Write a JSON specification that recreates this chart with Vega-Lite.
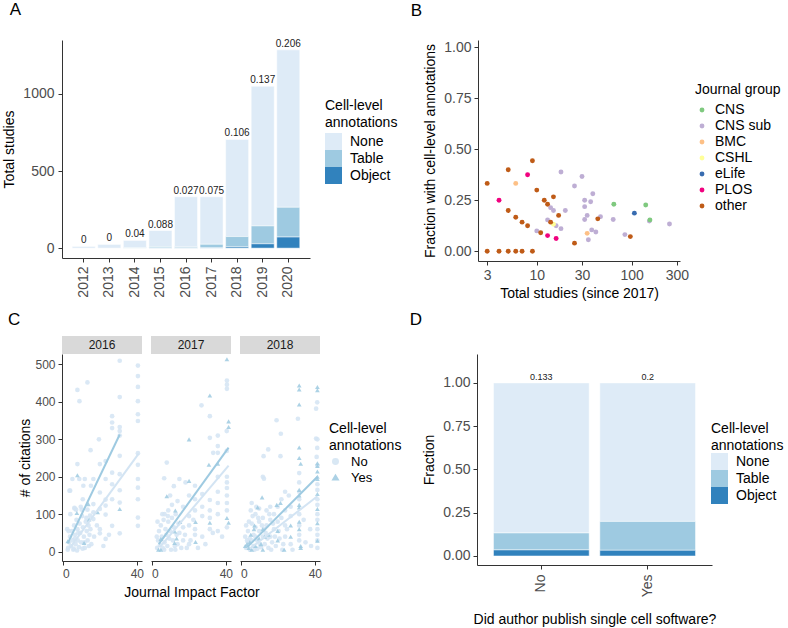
{
"$schema": "https://vega.github.io/schema/vega-lite/v6.json",
"background": "white",
"padding": {"left": 2, "top": 0, "right": 0, "bottom": 0},
"config": {
  "font": "Liberation Sans",
  "view": {"stroke": null},
  "axis": {"domainColor": "#333", "domainWidth": 1, "tickColor": "#333", "tickWidth": 1, "tickSize": 4, "labelColor": "#4d4d4d", "labelFontSize": 14, "labelPadding": 3, "titleFontSize": 14, "titleFontWeight": "normal", "titleColor": "#000", "grid": false, "titlePadding": 6},
  "legend": {"titleFontSize": 14, "titleFontWeight": "normal", "titleColor": "#000", "labelFontSize": 14, "labelColor": "#000", "titleLimit": 300, "labelLimit": 300},
  "header": {"titleFontWeight": "normal", "titleColor": "#000", "titleFontSize": 14},
  "title": {"fontSize": 17, "fontWeight": "normal", "anchor": "start", "frame": "bounds", "color": "#000"},
  "text": {"font": "Liberation Sans"}
},
"datasets": {
  "a": [
    {"yr": "2012", "ann": "None", "n": 11, "k": 3},
    {"yr": "2013", "ann": "None", "n": 24, "k": 3},
    {"yr": "2014", "ann": "None", "n": 48, "k": 3},
    {"yr": "2014", "ann": "Table", "n": 2, "k": 2},
    {"yr": "2015", "ann": "None", "n": 104, "k": 3},
    {"yr": "2015", "ann": "Table", "n": 9, "k": 2},
    {"yr": "2015", "ann": "Object", "n": 1, "k": 1},
    {"yr": "2016", "ann": "None", "n": 324, "k": 3},
    {"yr": "2016", "ann": "Table", "n": 8, "k": 2},
    {"yr": "2016", "ann": "Object", "n": 1, "k": 1},
    {"yr": "2017", "ann": "None", "n": 308, "k": 3},
    {"yr": "2017", "ann": "Table", "n": 24, "k": 2},
    {"yr": "2017", "ann": "Object", "n": 1, "k": 1},
    {"yr": "2018", "ann": "None", "n": 630, "k": 3},
    {"yr": "2018", "ann": "Table", "n": 67, "k": 2},
    {"yr": "2018", "ann": "Object", "n": 8, "k": 1},
    {"yr": "2019", "ann": "None", "n": 906, "k": 3},
    {"yr": "2019", "ann": "Table", "n": 116, "k": 2},
    {"yr": "2019", "ann": "Object", "n": 28, "k": 1},
    {"yr": "2020", "ann": "None", "n": 1021, "k": 3},
    {"yr": "2020", "ann": "Table", "n": 193, "k": 2},
    {"yr": "2020", "ann": "Object", "n": 72, "k": 1}
  ],
  "al": [
    {"yr": "2012", "tot": 11, "lab": "0"},
    {"yr": "2013", "tot": 24, "lab": "0"},
    {"yr": "2014", "tot": 50, "lab": "0.04"},
    {"yr": "2015", "tot": 114, "lab": "0.088"},
    {"yr": "2016", "tot": 333, "lab": "0.027"},
    {"yr": "2017", "tot": 333, "lab": "0.075"},
    {"yr": "2018", "tot": 705, "lab": "0.106"},
    {"yr": "2019", "tot": 1050, "lab": "0.137"},
    {"yr": "2020", "tot": 1286, "lab": "0.206"}
  ],
  "b": [
    {"g": "CNS sub", "n": 18, "f": 0.389}, {"g": "CNS sub", "n": 30, "f": 0.367}, {"g": "CNS sub", "n": 25, "f": 0.32}, {"g": "CNS sub", "n": 32, "f": 0.25},
    {"g": "CNS sub", "n": 37, "f": 0.243}, {"g": "CNS sub", "n": 39, "f": 0.282}, {"g": "CNS sub", "n": 32, "f": 0.219}, {"g": "CNS sub", "n": 20, "f": 0.2},
    {"g": "CNS sub", "n": 14, "f": 0.214}, {"g": "CNS sub", "n": 15, "f": 0.2}, {"g": "CNS sub", "n": 13, "f": 0.154}, {"g": "CNS sub", "n": 16, "f": 0.125},
    {"g": "CNS sub", "n": 18, "f": 0.111}, {"g": "CNS sub", "n": 10, "f": 0.1}, {"g": "CNS sub", "n": 34, "f": 0.176}, {"g": "CNS sub", "n": 32, "f": 0.156},
    {"g": "CNS sub", "n": 47, "f": 0.17}, {"g": "CNS sub", "n": 64, "f": 0.156}, {"g": "CNS sub", "n": 38, "f": 0.105}, {"g": "CNS sub", "n": 42, "f": 0.095},
    {"g": "CNS sub", "n": 35, "f": 0.057}, {"g": "CNS sub", "n": 85, "f": 0.082}, {"g": "CNS sub", "n": 154, "f": 0.148}, {"g": "CNS sub", "n": 251, "f": 0.134},
    {"g": "CNS", "n": 65, "f": 0.231}, {"g": "CNS", "n": 141, "f": 0.227}, {"g": "CNS", "n": 156, "f": 0.154},
    {"g": "BMC", "n": 6, "f": 0.333}, {"g": "BMC", "n": 34, "f": 0.088},
    {"g": "CSHL", "n": 15, "f": 0.133},
    {"g": "eLife", "n": 107, "f": 0.187},
    {"g": "PLOS", "n": 4, "f": 0.25}, {"g": "PLOS", "n": 8, "f": 0.375}, {"g": "PLOS", "n": 13, "f": 0.077}, {"g": "PLOS", "n": 16, "f": 0.0625},
    {"g": "other", "n": 3, "f": 0.333}, {"g": "other", "n": 5, "f": 0.4}, {"g": "other", "n": 9, "f": 0.444}, {"g": "other", "n": 10, "f": 0.3},
    {"g": "other", "n": 12, "f": 0.25}, {"g": "other", "n": 15, "f": 0.267}, {"g": "other", "n": 13, "f": 0.231}, {"g": "other", "n": 17, "f": 0.176},
    {"g": "other", "n": 5, "f": 0.2}, {"g": "other", "n": 6, "f": 0.167}, {"g": "other", "n": 7, "f": 0.143}, {"g": "other", "n": 8, "f": 0.125},
    {"g": "other", "n": 11, "f": 0.0909}, {"g": "other", "n": 14, "f": 0.143}, {"g": "other", "n": 25, "f": 0.04}, {"g": "other", "n": 44, "f": 0.159},
    {"g": "other", "n": 97, "f": 0.072}, {"g": "other", "n": 3, "f": 0}, {"g": "other", "n": 4, "f": 0}, {"g": "other", "n": 5, "f": 0},
    {"g": "other", "n": 6, "f": 0}, {"g": "other", "n": 7, "f": 0}, {"g": "other", "n": 9, "f": 0}
  ],
  "c": [
    {"yr":2016,"k":"s"},{"yr":2017,"k":"s"},{"yr":2018,"k":"s"},
    {"yr":2016,"a":"No","x":30.8,"c":510},{"yr":2016,"a":"No","x":40.6,"c":497},{"yr":2016,"a":"No","x":40.6,"c":469},{"yr":2016,"a":"No","x":40.6,"c":440},{"yr":2016,"a":"No","x":40.6,"c":402},
    {"yr":2016,"a":"No","x":40.6,"c":367},{"yr":2016,"a":"No","x":40.6,"c":349},{"yr":2016,"a":"No","x":30.8,"c":413},{"yr":2016,"a":"No","x":8,"c":432},{"yr":2016,"a":"No","x":9.1,"c":402},
    {"yr":2016,"a":"No","x":13.4,"c":452},{"yr":2016,"a":"No","x":26.7,"c":362},{"yr":2016,"a":"No","x":26.7,"c":345},{"yr":2016,"a":"No","x":26.7,"c":330},{"yr":2016,"a":"No","x":30.8,"c":333},
    {"yr":2016,"a":"No","x":30.8,"c":322},{"yr":2016,"a":"No","x":30.8,"c":310},{"yr":2016,"a":"No","x":15.1,"c":271},{"yr":2016,"a":"No","x":19.6,"c":300},{"yr":2016,"a":"No","x":40.6,"c":263},
    {"yr":2016,"a":"No","x":40.6,"c":232},{"yr":2016,"a":"No","x":40.6,"c":194},{"yr":2016,"a":"No","x":40.6,"c":171},{"yr":2016,"a":"No","x":40.6,"c":140},{"yr":2016,"a":"No","x":40.6,"c":91},
    {"yr":2016,"a":"No","x":40.6,"c":69},{"yr":2016,"a":"No","x":30.8,"c":256},{"yr":2016,"a":"No","x":30.8,"c":207},{"yr":2016,"a":"No","x":30.8,"c":164},{"yr":2016,"a":"No","x":30.8,"c":131},
    {"yr":2016,"a":"No","x":30.8,"c":49},{"yr":2016,"a":"No","x":26.7,"c":211},{"yr":2016,"a":"No","x":26.7,"c":180},{"yr":2016,"a":"No","x":26.7,"c":140},{"yr":2016,"a":"No","x":26.7,"c":69},
    {"yr":2016,"a":"No","x":23.2,"c":242},{"yr":2016,"a":"No","x":23.2,"c":194},{"yr":2016,"a":"No","x":23.2,"c":139},{"yr":2016,"a":"No","x":23.2,"c":123},{"yr":2016,"a":"No","x":23.2,"c":99},
    {"yr":2016,"a":"No","x":23.2,"c":34},{"yr":2016,"a":"No","x":20.1,"c":234},{"yr":2016,"a":"No","x":20.1,"c":158},{"yr":2016,"a":"No","x":20.1,"c":114},{"yr":2016,"a":"No","x":20.1,"c":60},
    {"yr":2016,"a":"No","x":20.1,"c":49},{"yr":2016,"a":"No","x":16.6,"c":194},{"yr":2016,"a":"No","x":16.6,"c":127},{"yr":2016,"a":"No","x":16.6,"c":105},{"yr":2016,"a":"No","x":16.6,"c":87},
    {"yr":2016,"a":"No","x":15.3,"c":176},{"yr":2016,"a":"No","x":3.7,"c":163},{"yr":2016,"a":"No","x":5.3,"c":194},{"yr":2016,"a":"No","x":8,"c":234},{"yr":2016,"a":"No","x":9,"c":194},
    {"yr":2016,"a":"No","x":11.2,"c":176},{"yr":2016,"a":"No","x":12,"c":194},{"yr":2016,"a":"No","x":10.9,"c":140},{"yr":2016,"a":"No","x":7.3,"c":112},{"yr":2016,"a":"No","x":10.3,"c":112},
    {"yr":2016,"a":"No","x":13.4,"c":112},{"yr":2016,"a":"No","x":14.8,"c":96},{"yr":2016,"a":"No","x":3,"c":10},{"yr":2016,"a":"No","x":3.5,"c":25},{"yr":2016,"a":"No","x":4,"c":40},
    {"yr":2016,"a":"No","x":4.5,"c":15},{"yr":2016,"a":"No","x":5,"c":55},{"yr":2016,"a":"No","x":5.5,"c":30},{"yr":2016,"a":"No","x":6,"c":8},{"yr":2016,"a":"No","x":6.2,"c":70},
    {"yr":2016,"a":"No","x":6.8,"c":45},{"yr":2016,"a":"No","x":7,"c":20},{"yr":2016,"a":"No","x":7.5,"c":85},{"yr":2016,"a":"No","x":8,"c":60},{"yr":2016,"a":"No","x":8.2,"c":30},
    {"yr":2016,"a":"No","x":8.8,"c":12},{"yr":2016,"a":"No","x":9.2,"c":75},{"yr":2016,"a":"No","x":9.5,"c":50},{"yr":2016,"a":"No","x":10,"c":25},{"yr":2016,"a":"No","x":10.5,"c":95},
    {"yr":2016,"a":"No","x":11,"c":65},{"yr":2016,"a":"No","x":11.5,"c":40},{"yr":2016,"a":"No","x":12,"c":10},{"yr":2016,"a":"No","x":12.5,"c":80},{"yr":2016,"a":"No","x":13,"c":55},
    {"yr":2016,"a":"No","x":13.5,"c":30},{"yr":2016,"a":"No","x":14,"c":70},{"yr":2016,"a":"No","x":14.5,"c":45},{"yr":2016,"a":"No","x":15,"c":60},{"yr":2016,"a":"No","x":15.5,"c":20},
    {"yr":2016,"a":"No","x":4.2,"c":100},{"yr":2016,"a":"No","x":6.5,"c":115},{"yr":2016,"a":"No","x":9.8,"c":120},{"yr":2016,"a":"No","x":12.8,"c":90},{"yr":2016,"a":"No","x":3.2,"c":55},
    {"yr":2016,"a":"No","x":5.8,"c":5},{"yr":2016,"a":"No","x":7.8,"c":3},{"yr":2016,"a":"No","x":10.8,"c":8},{"yr":2016,"a":"No","x":2.5,"c":60},{"yr":2016,"a":"No","x":2.8,"c":5},
    {"yr":2016,"a":"No","x":6.6,"c":35},{"yr":2016,"a":"No","x":8.5,"c":50},{"yr":2016,"a":"No","x":11.8,"c":25},{"yr":2016,"a":"No","x":14.2,"c":15},{"yr":2016,"a":"No","x":17,"c":40},
    {"yr":2016,"a":"No","x":18.5,"c":70},{"yr":2016,"a":"No","x":22,"c":15},{"yr":2016,"a":"No","x":25,"c":45},{"yr":2016,"a":"No","x":4.1,"c":163},{"yr":2016,"a":"No","x":6.4,"c":117},
    {"yr":2016,"a":"Yes","x":8,"c":204},{"yr":2016,"a":"Yes","x":13.9,"c":127},{"yr":2016,"a":"Yes","x":7.7,"c":103},{"yr":2016,"a":"Yes","x":18.9,"c":105},
    {"yr":2016,"a":"Yes","x":14.3,"c":86},{"yr":2016,"a":"Yes","x":30.8,"c":114},{"yr":2016,"a":"Yes","x":11.6,"c":23},{"yr":2016,"a":"Yes","x":2.8,"c":28},
    {"yr":2017,"a":"No","x":40.6,"c":457},{"yr":2017,"a":"No","x":40.6,"c":446},{"yr":2017,"a":"No","x":40.6,"c":435},{"yr":2017,"a":"No","x":26.9,"c":391},{"yr":2017,"a":"No","x":31.4,"c":362},
    {"yr":2017,"a":"No","x":31.4,"c":304},{"yr":2017,"a":"No","x":35.7,"c":310},{"yr":2017,"a":"No","x":40.5,"c":322},{"yr":2017,"a":"No","x":35.7,"c":282},{"yr":2017,"a":"No","x":33.2,"c":264},
    {"yr":2017,"a":"No","x":35.7,"c":264},{"yr":2017,"a":"No","x":40.5,"c":269},{"yr":2017,"a":"No","x":8.2,"c":238},{"yr":2017,"a":"No","x":6.8,"c":196},{"yr":2017,"a":"No","x":15,"c":194},
    {"yr":2017,"a":"No","x":18.3,"c":185},{"yr":2017,"a":"No","x":23.4,"c":176},{"yr":2017,"a":"No","x":27.3,"c":154},{"yr":2017,"a":"No","x":31.4,"c":138},{"yr":2017,"a":"No","x":31.4,"c":110},
    {"yr":2017,"a":"No","x":31.4,"c":90},{"yr":2017,"a":"No","x":31.4,"c":60},{"yr":2017,"a":"No","x":35.7,"c":200},{"yr":2017,"a":"No","x":35.7,"c":160},{"yr":2017,"a":"No","x":35.7,"c":130},
    {"yr":2017,"a":"No","x":35.7,"c":100},{"yr":2017,"a":"No","x":35.7,"c":55},{"yr":2017,"a":"No","x":40.6,"c":200},{"yr":2017,"a":"No","x":40.6,"c":185},{"yr":2017,"a":"No","x":40.6,"c":170},
    {"yr":2017,"a":"No","x":40.6,"c":150},{"yr":2017,"a":"No","x":40.6,"c":130},{"yr":2017,"a":"No","x":40.6,"c":110},{"yr":2017,"a":"No","x":40.6,"c":65},{"yr":2017,"a":"No","x":27.3,"c":120},
    {"yr":2017,"a":"No","x":27.3,"c":95},{"yr":2017,"a":"No","x":27.3,"c":40},{"yr":2017,"a":"No","x":23.4,"c":140},{"yr":2017,"a":"No","x":23.4,"c":110},{"yr":2017,"a":"No","x":23.4,"c":60},
    {"yr":2017,"a":"No","x":23.4,"c":45},{"yr":2017,"a":"No","x":20.2,"c":150},{"yr":2017,"a":"No","x":20.2,"c":95},{"yr":2017,"a":"No","x":20.2,"c":70},{"yr":2017,"a":"No","x":20.2,"c":20},
    {"yr":2017,"a":"No","x":17,"c":120},{"yr":2017,"a":"No","x":17,"c":65},{"yr":2017,"a":"No","x":17,"c":30},{"yr":2017,"a":"No","x":25,"c":10},{"yr":2017,"a":"No","x":12,"c":175},
    {"yr":2017,"a":"No","x":10,"c":150},{"yr":2017,"a":"No","x":14,"c":135},{"yr":2017,"a":"No","x":11,"c":125},{"yr":2017,"a":"No","x":9,"c":110},{"yr":2017,"a":"No","x":7,"c":100},
    {"yr":2017,"a":"No","x":3,"c":10},{"yr":2017,"a":"No","x":3.5,"c":30},{"yr":2017,"a":"No","x":4,"c":55},{"yr":2017,"a":"No","x":4.5,"c":18},{"yr":2017,"a":"No","x":5,"c":70},
    {"yr":2017,"a":"No","x":5.5,"c":40},{"yr":2017,"a":"No","x":6,"c":10},{"yr":2017,"a":"No","x":6.5,"c":85},{"yr":2017,"a":"No","x":7,"c":25},{"yr":2017,"a":"No","x":7.5,"c":60},
    {"yr":2017,"a":"No","x":8,"c":45},{"yr":2017,"a":"No","x":8.5,"c":15},{"yr":2017,"a":"No","x":9,"c":80},{"yr":2017,"a":"No","x":9.5,"c":35},{"yr":2017,"a":"No","x":10,"c":55},
    {"yr":2017,"a":"No","x":10.5,"c":5},{"yr":2017,"a":"No","x":11,"c":90},{"yr":2017,"a":"No","x":11.5,"c":30},{"yr":2017,"a":"No","x":12,"c":65},{"yr":2017,"a":"No","x":12.5,"c":15},
    {"yr":2017,"a":"No","x":13,"c":100},{"yr":2017,"a":"No","x":13.5,"c":45},{"yr":2017,"a":"No","x":14,"c":20},{"yr":2017,"a":"No","x":14.5,"c":75},{"yr":2017,"a":"No","x":15,"c":50},
    {"yr":2017,"a":"No","x":16,"c":10},{"yr":2017,"a":"No","x":3.2,"c":80},{"yr":2017,"a":"No","x":5.8,"c":100},{"yr":2017,"a":"No","x":2.8,"c":40},{"yr":2017,"a":"No","x":6.8,"c":5},
    {"yr":2017,"a":"No","x":8.8,"c":95},{"yr":2017,"a":"No","x":12.8,"c":5},{"yr":2017,"a":"No","x":18,"c":45},{"yr":2017,"a":"No","x":19,"c":10},{"yr":2017,"a":"No","x":21,"c":30},
    {"yr":2017,"a":"No","x":22.5,"c":85},{"yr":2017,"a":"No","x":29,"c":20},{"yr":2017,"a":"No","x":33,"c":50},{"yr":2017,"a":"No","x":38,"c":40},
    {"yr":2017,"a":"Yes","x":40.6,"c":514},{"yr":2017,"a":"Yes","x":31.4,"c":417},{"yr":2017,"a":"Yes","x":41.5,"c":348},{"yr":2017,"a":"Yes","x":41.5,"c":333},{"yr":2017,"a":"Yes","x":20.2,"c":300},
    {"yr":2017,"a":"Yes","x":30.9,"c":232},{"yr":2017,"a":"Yes","x":35.7,"c":235},{"yr":2017,"a":"Yes","x":20.2,"c":189},{"yr":2017,"a":"Yes","x":8.2,"c":148},{"yr":2017,"a":"Yes","x":12.8,"c":110},
    {"yr":2017,"a":"Yes","x":15.3,"c":79},{"yr":2017,"a":"Yes","x":23.7,"c":79},{"yr":2017,"a":"Yes","x":31.4,"c":77},{"yr":2017,"a":"Yes","x":40.6,"c":90},{"yr":2017,"a":"Yes","x":41.5,"c":77},
    {"yr":2017,"a":"Yes","x":12.5,"c":54},{"yr":2017,"a":"Yes","x":13.5,"c":35},{"yr":2017,"a":"Yes","x":23.7,"c":26},{"yr":2017,"a":"Yes","x":5,"c":5},{"yr":2017,"a":"Yes","x":3.7,"c":5},
    {"yr":2017,"a":"Yes","x":5,"c":34},{"yr":2017,"a":"Yes","x":12.4,"c":23},
    {"yr":2018,"a":"No","x":19.4,"c":351},{"yr":2018,"a":"No","x":30.9,"c":355},{"yr":2018,"a":"No","x":41.3,"c":399},{"yr":2018,"a":"No","x":40.7,"c":382},{"yr":2018,"a":"No","x":21.7,"c":315},
    {"yr":2018,"a":"No","x":40.7,"c":302},{"yr":2018,"a":"No","x":41.3,"c":277},{"yr":2018,"a":"No","x":14.9,"c":273},{"yr":2018,"a":"No","x":12.4,"c":255},{"yr":2018,"a":"No","x":21.5,"c":255},
    {"yr":2018,"a":"No","x":41,"c":253},{"yr":2018,"a":"No","x":41.4,"c":180},{"yr":2018,"a":"No","x":41.4,"c":165},{"yr":2018,"a":"No","x":41.4,"c":140},{"yr":2018,"a":"No","x":41.4,"c":125},
    {"yr":2018,"a":"No","x":41.4,"c":100},{"yr":2018,"a":"No","x":41.4,"c":85},{"yr":2018,"a":"No","x":41.4,"c":60},{"yr":2018,"a":"No","x":41.4,"c":45},{"yr":2018,"a":"No","x":41.4,"c":10},
    {"yr":2018,"a":"No","x":31.6,"c":210},{"yr":2018,"a":"No","x":31.6,"c":185},{"yr":2018,"a":"No","x":31.6,"c":140},{"yr":2018,"a":"No","x":31.6,"c":100},{"yr":2018,"a":"No","x":31.6,"c":45},
    {"yr":2018,"a":"No","x":31.6,"c":30},{"yr":2018,"a":"No","x":27,"c":120},{"yr":2018,"a":"No","x":27,"c":95},{"yr":2018,"a":"No","x":27,"c":20},{"yr":2018,"a":"No","x":24,"c":160},
    {"yr":2018,"a":"No","x":24,"c":110},{"yr":2018,"a":"No","x":24,"c":70},{"yr":2018,"a":"No","x":24,"c":40},{"yr":2018,"a":"No","x":22,"c":140},{"yr":2018,"a":"No","x":22,"c":90},
    {"yr":2018,"a":"No","x":20,"c":120},{"yr":2018,"a":"No","x":20,"c":80},{"yr":2018,"a":"No","x":18,"c":100},{"yr":2018,"a":"No","x":18,"c":60},{"yr":2018,"a":"No","x":16,"c":120},
    {"yr":2018,"a":"No","x":16,"c":85},{"yr":2018,"a":"No","x":16,"c":40},{"yr":2018,"a":"No","x":14,"c":110},{"yr":2018,"a":"No","x":14,"c":70},{"yr":2018,"a":"No","x":12,"c":200},
    {"yr":2018,"a":"No","x":12.6,"c":195},{"yr":2018,"a":"No","x":12,"c":90},{"yr":2018,"a":"No","x":12,"c":40},{"yr":2018,"a":"No","x":10,"c":115},{"yr":2018,"a":"No","x":10,"c":80},
    {"yr":2018,"a":"No","x":10,"c":55},{"yr":2018,"a":"No","x":8,"c":100},{"yr":2018,"a":"No","x":8,"c":65},{"yr":2018,"a":"No","x":8,"c":40},{"yr":2018,"a":"No","x":6,"c":130},
    {"yr":2018,"a":"No","x":6,"c":75},{"yr":2018,"a":"No","x":6,"c":30},{"yr":2018,"a":"No","x":4,"c":55},{"yr":2018,"a":"No","x":4,"c":25},{"yr":2018,"a":"No","x":3,"c":10},
    {"yr":2018,"a":"No","x":5,"c":5},{"yr":2018,"a":"No","x":7,"c":15},{"yr":2018,"a":"No","x":9,"c":8},{"yr":2018,"a":"No","x":11,"c":12},{"yr":2018,"a":"No","x":13,"c":20},
    {"yr":2018,"a":"No","x":15,"c":10},{"yr":2018,"a":"No","x":17,"c":25},{"yr":2018,"a":"No","x":19,"c":15},{"yr":2018,"a":"No","x":21,"c":35},{"yr":2018,"a":"No","x":23,"c":20},
    {"yr":2018,"a":"No","x":25,"c":60},{"yr":2018,"a":"No","x":26,"c":150},{"yr":2018,"a":"No","x":9,"c":30},{"yr":2018,"a":"No","x":7,"c":45},{"yr":2018,"a":"No","x":5,"c":35},
    {"yr":2018,"a":"No","x":3.5,"c":30},{"yr":2018,"a":"No","x":28,"c":5},{"yr":2018,"a":"No","x":35,"c":25},{"yr":2018,"a":"No","x":37.5,"c":60},{"yr":2018,"a":"No","x":38,"c":15},
    {"yr":2018,"a":"No","x":34,"c":85},{"yr":2018,"a":"No","x":2.5,"c":40},{"yr":2018,"a":"No","x":4.5,"c":80},{"yr":2018,"a":"No","x":6.5,"c":95},{"yr":2018,"a":"No","x":8.5,"c":120},
    {"yr":2018,"a":"No","x":10.5,"c":20},{"yr":2018,"a":"No","x":12.5,"c":60},{"yr":2018,"a":"No","x":14.5,"c":35},{"yr":2018,"a":"No","x":16.5,"c":5},{"yr":2018,"a":"No","x":18.5,"c":40},
    {"yr":2018,"a":"No","x":20.5,"c":55},{"yr":2018,"a":"No","x":22.5,"c":5},{"yr":2018,"a":"No","x":3,"c":70},{"yr":2018,"a":"No","x":5.5,"c":110},{"yr":2018,"a":"No","x":7.5,"c":5},
    {"yr":2018,"a":"No","x":9.5,"c":90},{"yr":2018,"a":"No","x":11.5,"c":70},{"yr":2018,"a":"No","x":13.5,"c":50},{"yr":2018,"a":"No","x":15.5,"c":100},{"yr":2018,"a":"No","x":17.5,"c":75},
    {"yr":2018,"a":"No","x":41.4,"c":30},{"yr":2018,"a":"No","x":41.4,"c":230},{"yr":2018,"a":"No","x":41.4,"c":300},{"yr":2018,"a":"No","x":31.6,"c":70},{"yr":2018,"a":"No","x":31.6,"c":160},
    {"yr":2018,"a":"Yes","x":31.6,"c":444},{"yr":2018,"a":"Yes","x":31.6,"c":433},{"yr":2018,"a":"Yes","x":41.4,"c":440},{"yr":2018,"a":"Yes","x":41.4,"c":431},{"yr":2018,"a":"Yes","x":31.6,"c":393},
    {"yr":2018,"a":"Yes","x":31.6,"c":278},{"yr":2018,"a":"Yes","x":31.6,"c":250},{"yr":2018,"a":"Yes","x":32.4,"c":235},{"yr":2018,"a":"Yes","x":41.4,"c":236},{"yr":2018,"a":"Yes","x":41.4,"c":229},
    {"yr":2018,"a":"Yes","x":41.4,"c":214},{"yr":2018,"a":"Yes","x":41.4,"c":200},{"yr":2018,"a":"Yes","x":41.4,"c":194},{"yr":2018,"a":"Yes","x":41.4,"c":154},{"yr":2018,"a":"Yes","x":41.4,"c":114},
    {"yr":2018,"a":"Yes","x":41.4,"c":76},{"yr":2018,"a":"Yes","x":41.4,"c":29},{"yr":2018,"a":"Yes","x":31.6,"c":165},{"yr":2018,"a":"Yes","x":31.6,"c":150},{"yr":2018,"a":"Yes","x":31.6,"c":125},
    {"yr":2018,"a":"Yes","x":31.6,"c":118},{"yr":2018,"a":"Yes","x":31.6,"c":80},{"yr":2018,"a":"Yes","x":31.6,"c":60},{"yr":2018,"a":"Yes","x":32.4,"c":15},{"yr":2018,"a":"Yes","x":32.4,"c":10},
    {"yr":2018,"a":"Yes","x":27,"c":70},{"yr":2018,"a":"Yes","x":27,"c":40},{"yr":2018,"a":"Yes","x":23.5,"c":5},{"yr":2018,"a":"Yes","x":21.5,"c":130},{"yr":2018,"a":"Yes","x":19.5,"c":125},
    {"yr":2018,"a":"Yes","x":20,"c":55},{"yr":2018,"a":"Yes","x":20,"c":30},{"yr":2018,"a":"Yes","x":15,"c":45},{"yr":2018,"a":"Yes","x":11.6,"c":145},{"yr":2018,"a":"Yes","x":12,"c":60},
    {"yr":2018,"a":"Yes","x":10,"c":35},{"yr":2018,"a":"Yes","x":9.2,"c":118},{"yr":2018,"a":"Yes","x":7.5,"c":70},{"yr":2018,"a":"Yes","x":7.2,"c":60},{"yr":2018,"a":"Yes","x":5.5,"c":45},
    {"yr":2018,"a":"Yes","x":5,"c":25},{"yr":2018,"a":"Yes","x":3.5,"c":20},{"yr":2018,"a":"Yes","x":4.5,"c":10},{"yr":2018,"a":"Yes","x":6,"c":5},{"yr":2018,"a":"Yes","x":8,"c":15},
    {"yr":2018,"a":"Yes","x":12,"c":5},{"yr":2018,"a":"Yes","x":13,"c":40},{"yr":2018,"a":"Yes","x":2.5,"c":15},{"yr":2018,"a":"Yes","x":11,"c":20},
    {"yr":2016,"k":"l","a":"No","x":4,"c":10},{"yr":2016,"k":"l","a":"No","x":41,"c":262},{"yr":2016,"k":"l","a":"Yes","x":2.8,"c":22},{"yr":2016,"k":"l","a":"Yes","x":30.8,"c":313},
    {"yr":2017,"k":"l","a":"No","x":4.5,"c":12},{"yr":2017,"k":"l","a":"No","x":41.5,"c":230},{"yr":2017,"k":"l","a":"Yes","x":3.9,"c":20},{"yr":2017,"k":"l","a":"Yes","x":41.5,"c":278},
    {"yr":2018,"k":"l","a":"No","x":5,"c":8},{"yr":2018,"k":"l","a":"No","x":41.4,"c":148},{"yr":2018,"k":"l","a":"Yes","x":3.6,"c":12},{"yr":2018,"k":"l","a":"Yes","x":41.4,"c":200}
  ],
  "d": [
    {"sw": "No", "ann": "None", "fr": 0.867, "k": 3},
    {"sw": "No", "ann": "Table", "fr": 0.098, "k": 2},
    {"sw": "No", "ann": "Object", "fr": 0.035, "k": 1},
    {"sw": "Yes", "ann": "None", "fr": 0.8, "k": 3},
    {"sw": "Yes", "ann": "Table", "fr": 0.167, "k": 2},
    {"sw": "Yes", "ann": "Object", "fr": 0.033, "k": 1}
  ],
  "dl": [
    {"sw": "No", "tot": 1, "lab": "0.133"},
    {"sw": "Yes", "tot": 1, "lab": "0.2"}
  ]
},
"spacing": 11,
"resolve": {"scale": {"color": "independent", "shape": "independent"}, "legend": {"color": "independent", "shape": "independent"}},
"vconcat": [
  {
    "columns": 2, "align": "none",
    "spacing": 12,
    "resolve": {"scale": {"color": "independent"}, "legend": {"color": "independent"}},
    "concat": [
      {
        "width": 248, "height": 218,
        "title": {"text": "A", "offset": 20, "dx": 7},
        "layer": [
          {
            "data": {"name": "a"},
            "mark": {"type": "bar", "stroke": "white", "strokeWidth": 0.5},
            "encoding": {
              "x": {"field": "yr", "type": "nominal", "scale": {"paddingInner": 0.1, "paddingOuter": 0.4}, "axis": {"title": null, "labelAngle": -90, "labelPadding": 4}},
              "y": {"field": "n", "type": "quantitative", "stack": "zero", "scale": {"domain": [-64, 1350], "nice": false, "zero": false}, "axis": {"title": "Total studies", "values": [0, 500, 1000], "format": "d", "labelPadding": 4}},
              "color": {"field": "ann", "type": "nominal", "scale": {"domain": ["None", "Table", "Object"], "range": ["#deebf7", "#9ecae1", "#3182bd"]},
                "legend": {"title": ["Cell-level", "annotations"], "orient": "none", "legendX": 263, "legendY": 59, "symbolType": "square", "symbolSize": 289, "symbolStrokeWidth": 0, "rowPadding": 0, "labelOffset": 8, "titleLineHeight": 17, "titlePadding": 3}},
              "order": {"field": "k", "type": "quantitative"}
            }
          },
          {
            "data": {"name": "al"},
            "mark": {"type": "text", "fontSize": 10, "baseline": "bottom", "dy": -1, "color": "#222"},
            "encoding": {
              "x": {"field": "yr", "type": "nominal"},
              "y": {"field": "tot", "type": "quantitative"},
              "text": {"field": "lab"}
            }
          }
        ]
      },
      {
        "width": 202, "height": 221,
        "title": {"text": "B", "offset": 20, "dx": -13},
        "data": {"name": "b"},
        "mark": {"type": "circle", "size": 24, "opacity": 1},
        "encoding": {
          "x": {"field": "n", "type": "quantitative", "scale": {"type": "log", "domain": [2.4, 324], "nice": false}, "axis": {"title": "Total studies (since 2017)", "values": [3, 10, 30, 100, 300], "format": "d", "titlePadding": 4}},
          "y": {"field": "f", "type": "quantitative", "scale": {"domain": [-0.0475, 1.0358], "nice": false, "zero": false}, "axis": {"title": "Fraction with cell-level annotations", "values": [0, 0.25, 0.5, 0.75, 1], "format": ".2f"}},
          "color": {"field": "g", "type": "nominal", "scale": {"domain": ["CNS", "CNS sub", "BMC", "CSHL", "eLife", "PLOS", "other"], "range": ["#7fc97f", "#beaed4", "#fdc086", "#ffff99", "#386cb0", "#f0027f", "#bf5b17"]},
            "legend": {"title": "Journal group", "orient": "none", "legendX": 217, "legendY": 43, "symbolType": "circle", "symbolSize": 24, "rowPadding": 2, "symbolOffset": 0, "labelOffset": 6, "titlePadding": 6}}
        }
      }
    ]
  },
  {
    "columns": 2, "align": "none",
    "spacing": 7,
    "resolve": {"scale": {"color": "independent", "shape": "independent"}, "legend": {"color": "independent", "shape": "independent"}},
    "concat": [
      {
        "title": {"text": "C", "offset": 7, "dx": -11},
        "data": {"name": "c"},
        "facet": {"column": {"field": "yr", "type": "ordinal", "header": {"title": "Journal Impact Factor", "titleOrient": "bottom", "labels": false, "titlePadding": -3}}},
        "spacing": 7,
        "spec": {
          "width": 80, "height": 207,
          "layer": [
            {
              "transform": [{"filter": "datum.k == 's'"}],
              "mark": {"type": "rect", "color": "#d9d9d9"},
              "encoding": {
                "x": {"datum": -0.3, "type": "quantitative"}, "x2": {"datum": 42.8},
                "y": {"datum": 528, "type": "quantitative"}, "y2": {"datum": 576}
              }
            },
            {
              "transform": [{"filter": "datum.k == 's'"}],
              "mark": {"type": "text", "fontSize": 12, "color": "#1a1a1a"},
              "encoding": {
                "x": {"datum": 21.25, "type": "quantitative"},
                "y": {"datum": 552, "type": "quantitative"},
                "text": {"field": "yr", "type": "nominal"}
              }
            },
            {
              "transform": [{"filter": "!datum.k"}],
              "mark": {"type": "point", "filled": true, "size": 22, "opacity": 0.85},
              "encoding": {
                "x": {"field": "x", "type": "quantitative", "scale": {"domain": [-0.3, 42.8], "nice": false, "zero": false}, "axis": {"title": null, "values": [0, 10, 20, 30, 40], "labelFontSize": 12}},
                "y": {"field": "c", "type": "quantitative", "scale": {"domain": [-25, 528], "nice": false, "zero": false}, "axis": {"title": "# of citations", "values": [0, 100, 200, 300, 400, 500], "labelFontSize": 12, "titlePadding": 2}},
                "color": {"field": "a", "type": "nominal", "scale": {"domain": ["No", "Yes"], "range": ["#d3e4f3", "#9ecae1"]},
                  "legend": {"title": ["Cell-level", "annotations"], "orient": "none", "legendX": 267, "legendY": 68, "rowPadding": 2, "labelFontSize": 13, "symbolOffset": 0, "labelOffset": 9, "titleLineHeight": 17, "titlePadding": 2, "symbolSize": 30}},
                "shape": {"field": "a", "type": "nominal", "scale": {"domain": ["No", "Yes"], "range": ["circle", "triangle-up"]},
                  "legend": {"title": ["Cell-level", "annotations"], "orient": "none", "legendX": 267, "legendY": 68, "rowPadding": 2, "labelFontSize": 13, "symbolOffset": 0, "labelOffset": 9, "titleLineHeight": 17, "titlePadding": 2, "symbolSize": 30}}
              }
            },
            {
              "transform": [{"filter": "datum.k == 'l'"}],
              "mark": {"type": "line", "strokeWidth": 2},
              "encoding": {
                "x": {"field": "x", "type": "quantitative"},
                "y": {"field": "c", "type": "quantitative"},
                "color": {"field": "a", "type": "nominal"}
              }
            }
          ]
        }
      },
      {
        "width": 235, "height": 211,
        "title": {"text": "D", "offset": 25, "dx": -13},
        "layer": [
          {
            "data": {"name": "d"},
            "mark": {"type": "bar", "stroke": "white", "strokeWidth": 0.5},
            "encoding": {
              "x": {"field": "sw", "type": "nominal", "scale": {"paddingInner": 0.1, "paddingOuter": 0.155}, "axis": {"title": "Did author publish single cell software?", "labelAngle": -90, "labelPadding": 5, "titlePadding": 16}},
              "y": {"field": "fr", "type": "quantitative", "stack": "zero", "scale": {"domain": [-0.052, 1.167], "nice": false, "zero": false}, "axis": {"title": "Fraction", "values": [0, 0.25, 0.5, 0.75, 1], "format": ".2f"}},
              "color": {"field": "ann", "type": "nominal", "scale": {"domain": ["None", "Table", "Object"], "range": ["#deebf7", "#9ecae1", "#3182bd"]},
                "legend": {"title": ["Cell-level", "annotations"], "orient": "none", "legendX": 234, "legendY": 68, "symbolType": "square", "symbolSize": 289, "symbolStrokeWidth": 0, "rowPadding": 0, "labelOffset": 8, "titleLineHeight": 17, "titlePadding": 0}},
              "order": {"field": "k", "type": "quantitative"}
            }
          },
          {
            "data": {"name": "dl"},
            "mark": {"type": "text", "fontSize": 9, "baseline": "bottom", "dy": -1, "color": "#222"},
            "encoding": {
              "x": {"field": "sw", "type": "nominal"},
              "y": {"field": "tot", "type": "quantitative"},
              "text": {"field": "lab"}
            }
          }
        ]
      }
    ]
  }
]
}
